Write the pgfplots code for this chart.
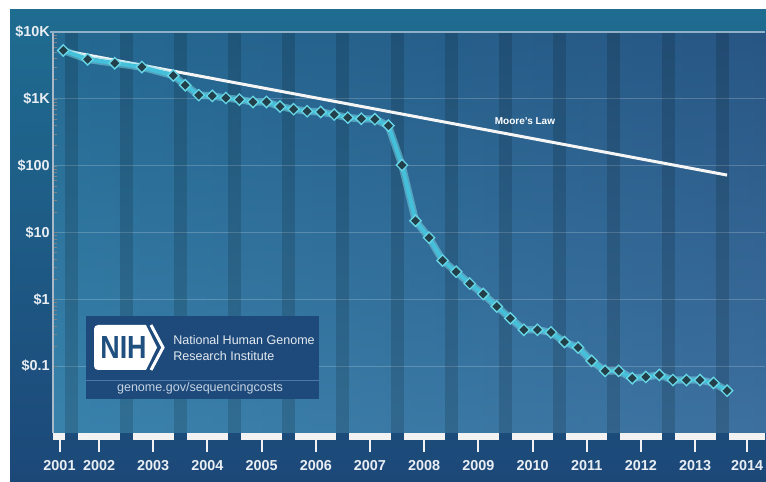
\documentclass[border=0pt]{standalone}
\usepackage{fontspec}
\setmainfont{Liberation Sans}
\usepackage{pgfplots}
\pgfplotsset{compat=1.18}

\definecolor{bgtop}{HTML}{1F6C91}
\definecolor{bgbot}{HTML}{1C4878}
\definecolor{plotL}{HTML}{2D7CA5}
\definecolor{plotR}{HTML}{335F90}
\definecolor{ovtop}{HTML}{14466E}
\definecolor{ovbot}{HTML}{4F90BB}
\definecolor{ticktxt}{HTML}{E8EEF3}
\definecolor{axisln}{HTML}{A9B9C8}
\definecolor{topln}{HTML}{8FB0C6}
\definecolor{seq}{HTML}{45C0DA}
\definecolor{seqglow}{HTML}{7FDCEA}
\definecolor{markfill}{HTML}{233F49}
\definecolor{markdraw}{HTML}{66D5E6}
\definecolor{nihbox}{HTML}{1E4A7B}
\definecolor{nihsep}{HTML}{4B78A6}
\definecolor{nihblue}{HTML}{20507F}
\definecolor{nihtxt}{HTML}{E4EAF0}
\definecolor{nihurl}{HTML}{C5D3E2}

\begin{document}
\begin{tikzpicture}
% background, 1px = 0.75pt
\begin{scope}[x=0.75pt,y=0.75pt]
  \fill[white] (0,0) rectangle (766,481);
  \shade[top color=bgtop, bottom color=bgbot] (10,0) rectangle (766,471);
  \shade[left color=plotL, right color=plotR] (53,48) rectangle (766,449);
  \shade[top color=ovtop, bottom color=ovbot, fill opacity=0.35] (53,48) rectangle (766,449);
\end{scope}

\begin{axis}[
  at={(39.75pt,36pt)}, anchor=south west,
  width=534pt, height=300.75pt, scale only axis,
  clip=false,
  xmin=2001.56, xmax=2014.70,
  ymode=log, ymin=0.01, ymax=10000,
  axis x line*=bottom, axis y line*=left,
  x axis line style={draw=none},
  y axis line style={draw=axisln, line width=1.2pt},
  major tick length=0pt,
  xtick={2001.68,2002.41,2003.41,2004.41,2005.41,2006.41,2007.41,2008.41,2009.41,2010.41,2011.41,2012.41,2013.41,2014.37},
  xticklabels={2001,2002,2003,2004,2005,2006,2007,2008,2009,2010,2011,2012,2013,2014},
  ytick={0.1,1,10,100,1000,10000},
  yticklabels={\$0.1,\$1,\$10,\$100,\$1K,\$10K},
  ymajorgrids,
  grid style={white, opacity=0.2, line width=0.6pt},
  tick label style={font=\fontsize{10.8}{12}\selectfont\bfseries, text=ticktxt, inner sep=0pt},
  xticklabel style={anchor=north, yshift=-20.25pt},
  yticklabel style={anchor=east, xshift=-2.25pt},
]
% darker stripe at each turn of the year
\pgfplotsinvokeforeach{2001,...,2013}{
  \fill[black, opacity=0.14] (axis cs:#1.79,0.01) rectangle ([xshift=9.75pt]axis cs:#1.79,10000);
}

% year bars and stems under the plot area
\fill[white!95!black] (axis cs:2001.56,0.01) rectangle ([yshift=-5.25pt]axis cs:2001.79,0.01);
\pgfplotsinvokeforeach{2002,...,2013}{
  \fill[white!95!black] (axis cs:#1.03,0.01) rectangle ([yshift=-5.25pt]axis cs:#1.79,0.01);
  \draw[white!95!black, line width=1.5pt] ([yshift=-5pt]axis cs:#1.41,0.01) -- ++(0pt,-9pt);
}
\fill[white!95!black] (axis cs:2014.03,0.01) rectangle ([yshift=-5.25pt]axis cs:2014.70,0.01);
\draw[white!95!black, line width=1.5pt] ([yshift=-5pt]axis cs:2001.68,0.01) -- ++(0pt,-9pt);
\draw[white!95!black, line width=1.5pt] ([yshift=-5pt]axis cs:2014.37,0.01) -- ++(0pt,-9pt);

\draw[topln, line width=1.2pt] ([xshift=-2pt]axis cs:2001.56,10000) -- (axis cs:2014.70,10000);

% Moore's law
\addplot[white!96!black, line width=2.25pt] coordinates {(2001.75,5292) (2014.0,72.3)};
\node[font=\fontsize{7.5}{9}\selectfont\bfseries, text=white] at (axis cs:2010.27,466) {Moore's Law};

% cost per megabase
\pgfplotstableread{
t cost
2001.75 5292
2002.20 3899
2002.70 3414
2003.20 2986
2003.78 2231
2004.00 1599
2004.25 1136
2004.50 1107
2004.75 1029
2005.00 974
2005.25 898
2005.50 899
2005.75 767
2006.00 699
2006.25 652
2006.50 636
2006.75 582
2007.00 523
2007.25 503
2007.50 496
2007.75 397
2008.00 102
2008.25 15.0
2008.50 8.36
2008.75 3.81
2009.00 2.59
2009.25 1.72
2009.50 1.20
2009.75 0.78
2010.00 0.52
2010.25 0.35
2010.50 0.35
2010.75 0.32
2011.00 0.23
2011.25 0.19
2011.50 0.12
2011.75 0.085
2012.00 0.085
2012.25 0.066
2012.50 0.069
2012.75 0.074
2013.00 0.062
2013.25 0.062
2013.50 0.062
2013.75 0.056
2014.00 0.043
}\costs
\addplot[seqglow, opacity=0.5, line width=5.5pt] table[x=t, y=cost] {\costs};
\addplot[seq, line width=3pt, mark=square*, mark size=3pt,
  mark options={rotate=45, fill=markfill, draw=markdraw, line width=1pt}] table[x=t, y=cost] {\costs};
\end{axis}

% NIH box
\begin{scope}[x=0.75pt,y=0.75pt]
  \fill[nihbox] (86,82) rectangle (319,165);
  \draw[nihsep, line width=0.75pt] (86,100) -- (319,100);
  \fill[white] (146,156) -- (157,133.5) -- (146,111) {[rounded corners=3pt] -- (94,111) -- (94,156)} -- cycle;
  \draw[white, line width=2.25pt, miter limit=4] (151,156) -- (163,133.5) -- (151,111);
  \node[inner sep=0pt, xscale=0.84, text=nihblue, font=\fontsize{24}{24}\selectfont\bfseries] at (123.5,133.5) {NIH};
  \node[inner sep=0pt, anchor=base west, text=nihtxt, font=\fontsize{9.4}{11}\selectfont] at (173,136) {National Human Genome};
  \node[inner sep=0pt, anchor=base west, text=nihtxt, font=\fontsize{9.4}{11}\selectfont] at (173,120) {Research Institute};
  \node[inner sep=0pt, anchor=base, text=nihurl, font=\fontsize{9.4}{11}\selectfont] at (200,89) {genome.gov/sequencingcosts};
\end{scope}
\end{tikzpicture}
\end{document}
